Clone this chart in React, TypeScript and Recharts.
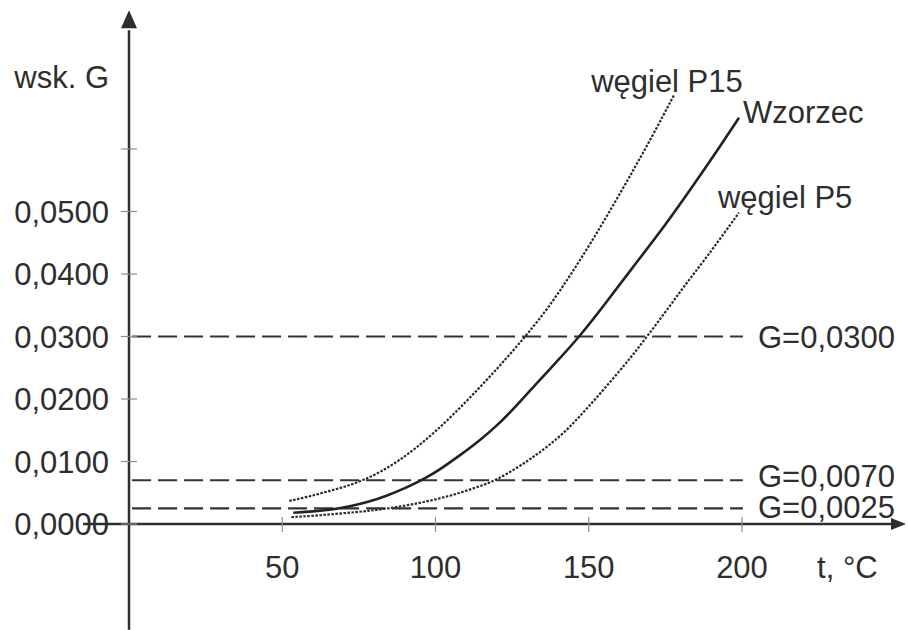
import React from 'react';
import { ComposedChart, Line, XAxis, YAxis, ReferenceLine, ReferenceDot } from 'recharts';

// ---- data (t in °C, G index) ----
const wzorzecT = [53.6, 60, 66, 72, 78, 84, 90, 96, 102, 108, 114, 120, 126, 132, 140, 147, 155, 165, 175, 185, 192, 199];
const wzorzecG = [0.0018, 0.002, 0.0023, 0.0028, 0.0035, 0.0045, 0.0057, 0.0071, 0.0089, 0.011, 0.0132, 0.0157, 0.0187, 0.022, 0.0262, 0.03, 0.035, 0.0415, 0.0478, 0.0548, 0.0598, 0.065];

const p15T = [52.3, 58, 64, 70, 76, 82, 88, 94, 100, 106, 112, 118, 124, 130, 137, 144, 151, 158, 165, 171, 177.8];
const p15G = [0.0037, 0.0043, 0.0051, 0.0059, 0.0069, 0.0083, 0.0101, 0.0123, 0.0148, 0.0176, 0.0206, 0.0237, 0.027, 0.0304, 0.0347, 0.0398, 0.0452, 0.051, 0.057, 0.0623, 0.0686];

const p5T = [53, 60, 67, 74, 80, 86, 92, 98, 104, 110, 116, 120, 126, 131, 136.3, 142, 147, 152, 158, 164, 169, 175, 180, 185, 190, 199];
const p5G = [0.0011, 0.0013, 0.0016, 0.0019, 0.0022, 0.0026, 0.0031, 0.0037, 0.0044, 0.0053, 0.0063, 0.0071, 0.0088, 0.0104, 0.0123, 0.0146, 0.0172, 0.0199, 0.0233, 0.0268, 0.03, 0.0339, 0.0373, 0.0405, 0.0437, 0.0498];

const xTicks = [50, 100, 150, 200];
const xTickLabels = ['50', '100', '150', '200'];
const yTicks = [0, 0.01, 0.02, 0.03, 0.04, 0.05, 0.06];
const yTickLabels = ['0,0000', '0,0100', '0,0200', '0,0300', '0,0400', '0,0500', ''];

const thresholds = [0.03, 0.007, 0.0025];
const thresholdLabels = ['G=0,0300', 'G=0,0070', 'G=0,0025'];

const seriesNames = ['węgiel P15', 'Wzorzec', 'węgiel P5'];
const yAxisTitle = 'wsk. G';
const xAxisTitle = 't, °C';

// ---- layout / style ----
const FONT = '"Liberation Sans", Arial, Helvetica, sans-serif';
const FS = 31;
const INK = '#2e2e2e';
const X_DOMAIN: [number, number] = [-42.09, 254.16];
const Y_DOMAIN: [number, number] = [-0.01696, 0.08384];
const thresholdDy = [0, -4, -1];

const toPoints = (ts: number[], gs: number[]) => ts.map((t, i) => ({ t, g: gs[i] }));
const wzorzec = toPoints(wzorzecT, wzorzecG);
const p15 = toPoints(p15T, p15G);
const p5 = toPoints(p5T, p5G);

const txt = (label: string, dx: number, dy: number, anchor: string, extraDy?: string) => (p: any) => (
  <text
    x={p.cx + dx}
    y={p.cy + dy}
    dy={extraDy}
    textAnchor={anchor}
    fontSize={FS}
    fontFamily={FONT}
    fill={INK}
  >
    {label}
  </text>
);

const xTickShape = (label: string) => (p: any) => (
  <g>
    <line x1={p.cx} x2={p.cx} y1={p.cy - 7} y2={p.cy + 8} stroke="#8c8c8c" strokeWidth={1.2} />
    <text x={p.cx} y={p.cy + 54} textAnchor="middle" fontSize={FS} fontFamily={FONT} fill={INK}>
      {label}
    </text>
  </g>
);

const yTickShape = (label: string) => (p: any) => (
  <g>
    <text x={p.cx - 20} y={p.cy} dy="0.355em" textAnchor="end" fontSize={FS} fontFamily={FONT} fill={INK}>
      {label}
    </text>
    <line x1={p.cx - 8} x2={p.cx + 8} y1={p.cy} y2={p.cy} stroke="#8c8c8c" strokeWidth={1.2} />
  </g>
);

const upArrow = (p: any) => (
  <polygon points={`${p.cx},${p.cy} ${p.cx - 8},${p.cy + 18} ${p.cx + 8},${p.cy + 18}`} fill={INK} />
);
const rightArrow = (p: any) => (
  <polygon points={`${p.cx},${p.cy} ${p.cx - 15},${p.cy - 6} ${p.cx - 15},${p.cy + 6}`} fill={INK} />
);

export default function App() {
  return (
    <div style={{ position: 'absolute', left: 0, top: 0, width: 908, height: 630, background: '#fff' }}>
      <ComposedChart width={908} height={630} margin={{ top: 0, right: 0, bottom: 0, left: 0 }}>
        <XAxis type="number" dataKey="t" domain={X_DOMAIN} allowDataOverflow hide scale="linear" />
        <YAxis type="number" dataKey="g" domain={Y_DOMAIN} allowDataOverflow hide scale="linear" />

        {/* tick labels and tick marks */}
        {yTicks.map((v, i) => (
          <ReferenceDot key={'yt' + i} x={0} y={v} r={1} shape={yTickShape(yTickLabels[i])} ifOverflow="visible" />
        ))}
        {xTicks.map((v, i) => (
          <ReferenceDot key={'xt' + i} x={v} y={0} r={1} shape={xTickShape(xTickLabels[i])} ifOverflow="visible" />
        ))}

        {/* threshold lines */}
        {thresholds.map((g, i) => (
          <ReferenceLine
            key={'th' + i}
            segment={[{ x: 1, y: g }, { x: 200.3, y: g }]}
            stroke="#333"
            strokeWidth={2.2}
            strokeDasharray="19 7"
            ifOverflow="visible"
          />
        ))}
        {thresholds.map((g, i) => (
          <ReferenceDot
            key={'thl' + i}
            x={205.2}
            y={g}
            r={1}
            shape={txt(thresholdLabels[i], 0, thresholdDy[i], 'start', '0.355em')}
            ifOverflow="visible"
          />
        ))}

        {/* axes */}
        <ReferenceLine segment={[{ x: -15, y: 0 }, { x: 249, y: 0 }]} stroke={INK} strokeWidth={2.5} ifOverflow="visible" />
        <ReferenceDot x={253.5} y={0} r={1} shape={rightArrow} ifOverflow="visible" />
        <ReferenceLine segment={[{ x: 0, y: -0.0169 }, { x: 0, y: 0.079 }]} stroke={INK} strokeWidth={2.5} ifOverflow="visible" />
        <ReferenceDot x={0} y={0.0822} r={1} shape={upArrow} ifOverflow="visible" />

        {/* axis titles */}
        <ReferenceDot x={0} y={0.0715} r={1} shape={txt(yAxisTitle, -20, 0, 'end', '0.355em')} ifOverflow="visible" />
        <ReferenceDot x={224.5} y={0} r={1} shape={txt(xAxisTitle, 0, 54, 'start')} ifOverflow="visible" />

        {/* curves */}
        <Line data={p15} dataKey="g" type="basis" stroke="#2a2a2a" strokeWidth={2.2} strokeDasharray="2.5 1.5" dot={false} activeDot={false} isAnimationActive={false} />
        <Line data={wzorzec} dataKey="g" type="basis" stroke="#222" strokeWidth={2.6} dot={false} activeDot={false} isAnimationActive={false} />
        <Line data={p5} dataKey="g" type="basis" stroke="#2a2a2a" strokeWidth={2.2} strokeDasharray="2.5 1.5" dot={false} activeDot={false} isAnimationActive={false} />

        {/* series labels */}
        <ReferenceDot x={177.8} y={0.0686} r={1} shape={txt(seriesNames[0], -7, -3, 'middle')} ifOverflow="visible" />
        <ReferenceDot x={199} y={0.065} r={1} shape={txt(seriesNames[1], 4, 5, 'start')} ifOverflow="visible" />
        <ReferenceDot x={199} y={0.0498} r={1} shape={txt(seriesNames[2], -21, -5, 'start')} ifOverflow="visible" />
      </ComposedChart>
    </div>
  );
}
